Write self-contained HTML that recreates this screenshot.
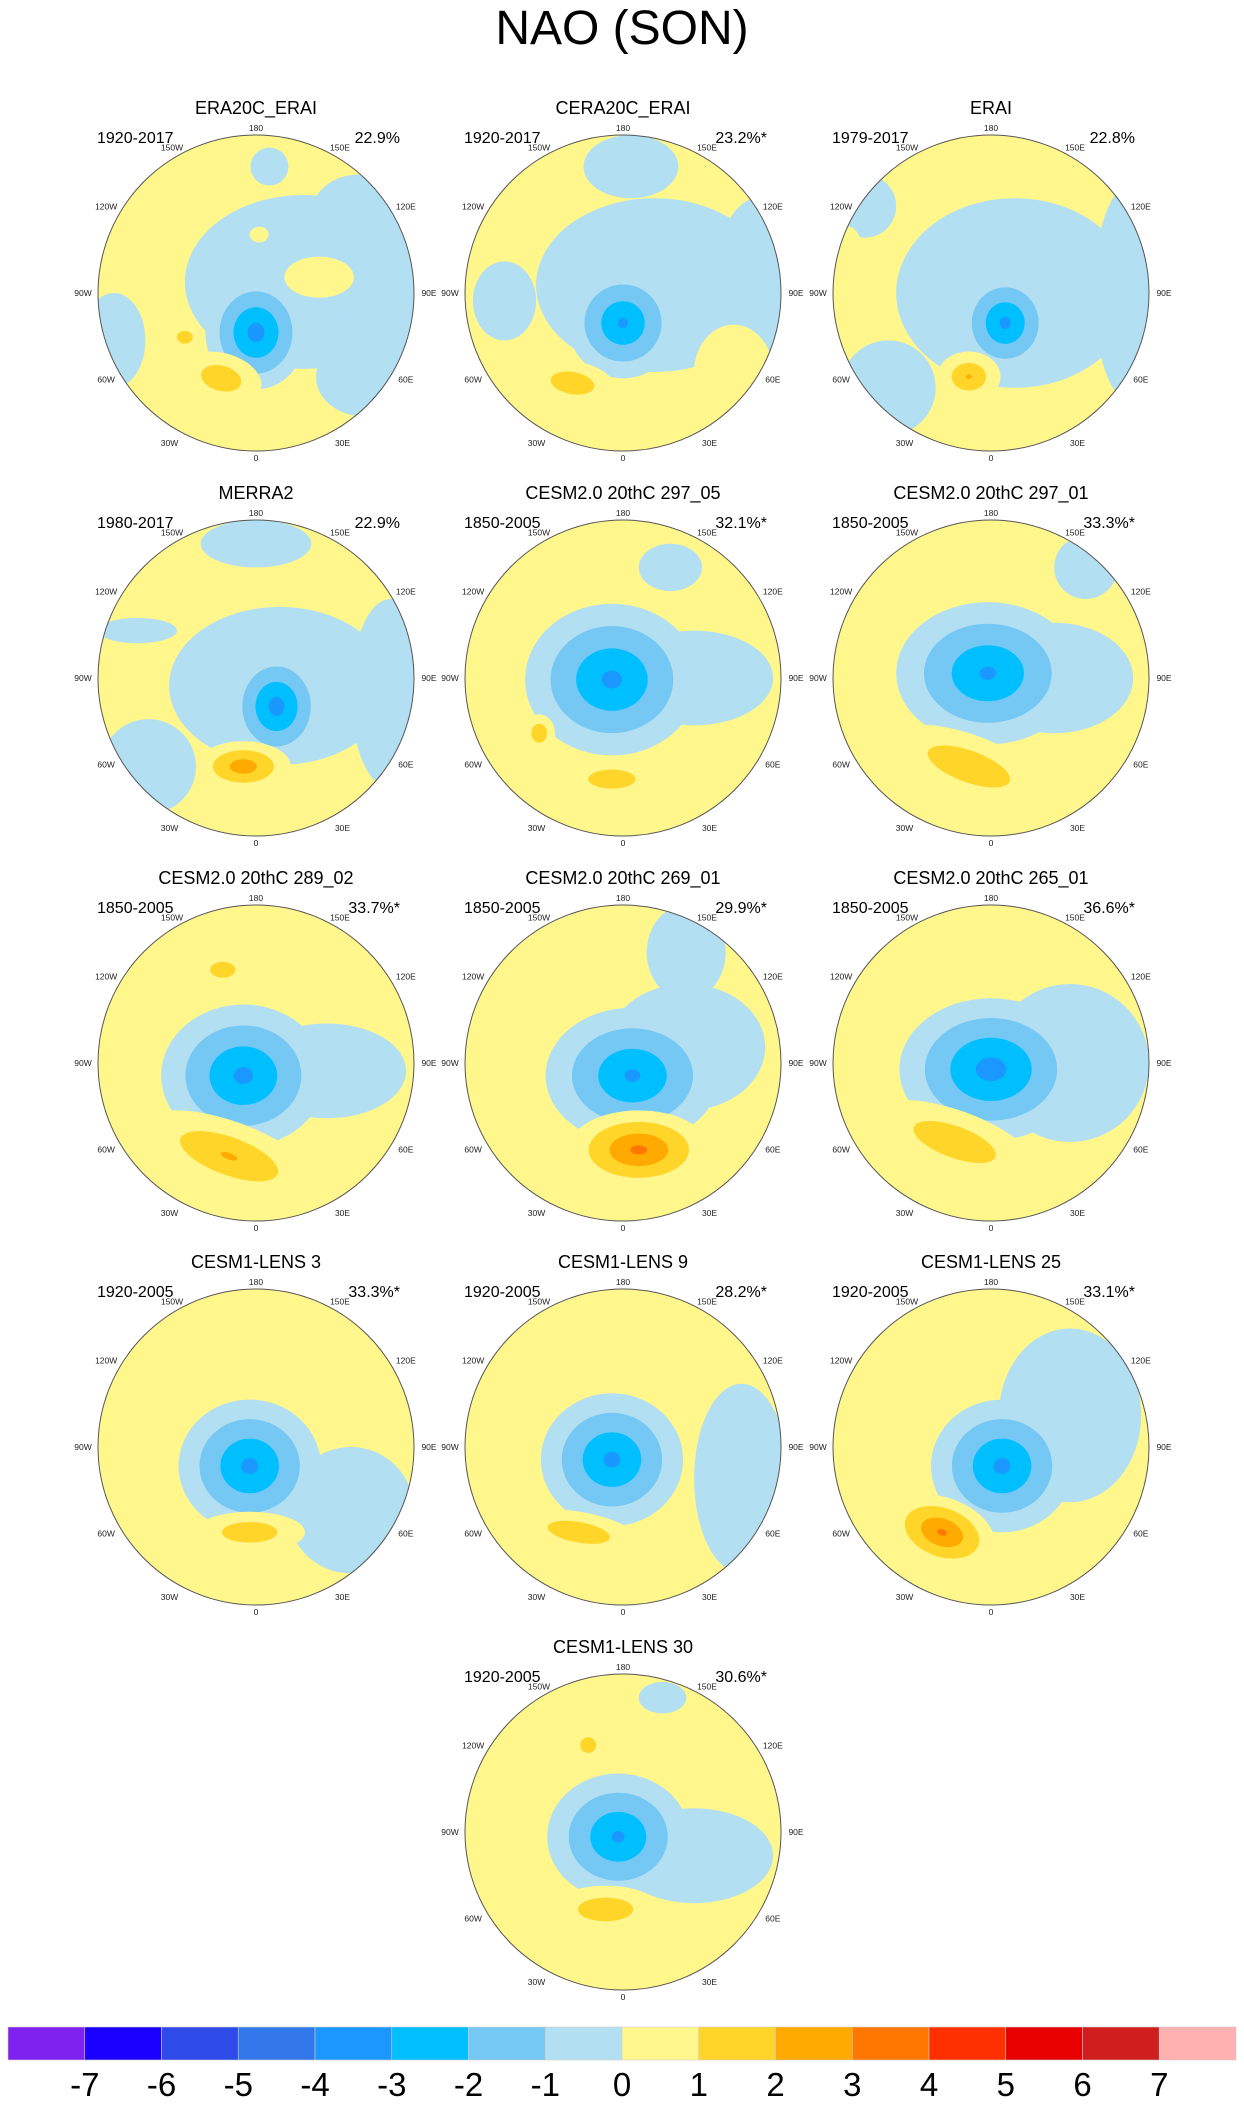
<!DOCTYPE html>
<html><head><meta charset="utf-8">
<style>
html,body{margin:0;padding:0;background:#fff;}
body{width:1244px;height:2107px;overflow:hidden;font-family:"Liberation Sans",sans-serif;}
svg text{font-family:"Liberation Sans",sans-serif;}
</style></head>
<body>
<svg id="fig" width="1244" height="2107" viewBox="0 0 1244 2107" xmlns="http://www.w3.org/2000/svg">
<text x="622" y="44" font-size="48" text-anchor="middle">NAO (SON)</text>
<g id="panels"></g>
<g id="cbar"></g>
</svg>
<script>
// ---- panel metadata ----
const titles = ["ERA20C_ERAI","CERA20C_ERAI","ERAI","MERRA2","CESM2.0 20thC 297_05","CESM2.0 20thC 297_01","CESM2.0 20thC 289_02","CESM2.0 20thC 269_01","CESM2.0 20thC 265_01","CESM1-LENS 3","CESM1-LENS 9","CESM1-LENS 25","CESM1-LENS 30"];
const periods = ["1920-2017","1920-2017","1979-2017","1980-2017","1850-2005","1850-2005","1850-2005","1850-2005","1850-2005","1920-2005","1920-2005","1920-2005","1920-2005"];
const variance = ["22.9%","23.2%*","22.8%","22.9%","32.1%*","33.3%*","33.7%*","29.9%*","36.6%*","33.3%*","28.2%*","33.1%*","30.6%*"];
// ---- anomaly features per panel: [u, v, rx, ry, rot, peak] (u,v in circle-radius units) ----
const fields = [
 [[0.3,-0.07,0.75,0.55,0,-0.9],[0.9,0.2,0.35,0.8,0,-0.9],[0.68,0.53,0.3,0.25,0,-0.9],[0.085,-0.8,0.12,0.12,0,-0.9],[0.65,-0.5,0.3,0.25,0,-0.9],[-0.9,0.3,0.2,0.3,0,-0.9],[0.4,-0.1,0.22,0.13,0,0.5],[0.02,-0.37,0.06,0.05,0,0.5],[0.0,0.25,0.32,0.36,0,-3.6],[-0.22,0.54,0.26,0.16,15,2],[-0.45,0.28,0.1,0.08,0,2]],
 [[0.2,-0.05,0.75,0.55,0,-0.9],[0.85,0.1,0.3,0.7,0,-0.9],[0.05,-0.8,0.3,0.2,0,-0.9],[-0.75,0.05,0.2,0.25,0,-0.9],[0.7,0.5,0.25,0.3,0,0.5],[0.0,0.19,0.35,0.35,0,-3.3],[-0.32,0.57,0.28,0.14,10,2]],
 [[0.15,0,0.75,0.6,0,-0.9],[-0.65,0.6,0.3,0.3,0,-0.9],[-0.8,-0.55,0.2,0.2,0,-0.9],[0.9,0,0.25,0.7,0,-0.9],[-0.9,-0.07,0.12,0.35,0,0.5],[0.09,0.19,0.3,0.32,0,-3.4],[-0.14,0.53,0.2,0.16,0,2.2]],
 [[0.15,0.05,0.7,0.5,0,-0.9],[-0.68,0.56,0.3,0.3,0,-0.9],[0,-0.85,0.35,0.15,0,-0.9],[-0.75,-0.3,0.25,0.08,0,-0.9],[0.85,0.1,0.25,0.6,0,-0.9],[0.13,0.18,0.3,0.35,0,-3.6],[-0.08,0.56,0.3,0.16,0,2.8]],
 [[0.45,0,0.5,0.3,0,-0.9],[0.3,-0.7,0.2,0.15,0,-0.9],[-0.07,0.01,0.55,0.48,0,-3.4],[-0.07,0.64,0.3,0.12,0,2],[-0.53,0.35,0.1,0.12,0,2]],
 [[0.4,0,0.5,0.35,0,-0.9],[0.6,-0.7,0.2,0.2,0,-0.9],[-0.02,-0.03,0.58,0.45,0,-3.3],[-0.14,0.56,0.55,0.2,20,2]],
 [[0.45,0.05,0.5,0.3,0,-0.9],[-0.08,0.08,0.52,0.45,0,-3.4],[-0.17,0.59,0.6,0.22,20,2.2],[-0.21,-0.59,0.16,0.1,0,2]],
 [[0.4,-0.1,0.5,0.4,0,-0.9],[0.4,-0.7,0.25,0.3,0,-0.9],[0.06,0.08,0.55,0.43,0,-3.3],[0.1,0.55,0.45,0.25,0,3.4]],
 [[0.5,0,0.5,0.5,0,-0.9],[0,0.04,0.58,0.45,0,-3.6],[-0.23,0.5,0.55,0.2,20,2]],
 [[0.6,0.4,0.4,0.4,0,-0.9],[-0.04,0.12,0.45,0.42,0,-3.4],[-0.04,0.54,0.35,0.13,0,2]],
 [[0.75,0.2,0.3,0.6,0,-0.9],[-0.07,0.08,0.45,0.42,0,-3.4],[-0.28,0.54,0.4,0.13,10,2]],
 [[0.5,-0.2,0.45,0.55,0,-0.9],[0.07,0.12,0.45,0.42,0,-3.4],[-0.31,0.54,0.35,0.22,20,3.3]],
 [[0.45,0.15,0.5,0.3,0,-0.9],[0.25,-0.85,0.15,0.1,0,-0.9],[-0.03,0.03,0.45,0.4,0,-3.3],[-0.11,0.49,0.35,0.15,0,2],[-0.22,-0.55,0.1,0.1,0,2]]
];
// ---- colour scale ----
const levels = [-7,-6,-5,-4,-3,-2,-1,0,1,2,3,4,5,6,7];
const colors = ["#7f22ef","#1a00ff","#2e4ae8","#3378eb","#1a98ff","#00bfff","#75c8f3","#b3dff3","#fff68c","#ffd52a","#ffaa00","#ff7700","#ff3000","#e80000","#d01e1e","#ffb0b0"];
const lonLabels = ["0","30E","60E","90E","120E","150E","180","150W","120W","90W","60W","30W"];
const lonValues = [0,30,60,90,120,150,180,-150,-120,-90,-60,-30];

const NS="http://www.w3.org/2000/svg";
function mk(tag,attrs,parent){const e=document.createElementNS(NS,tag);for(const k in attrs)e.setAttribute(k,attrs[k]);if(parent)parent.appendChild(e);return e;}
function colorFor(lo){ const i=lo+8; return colors[Math.max(0,Math.min(15,i))]; }
const R=158;
const colX=[256,623,991], rowY=[293,678,1063,1447,1832];
const panelsG=document.getElementById('panels');
titles.forEach((t,p)=>{
  const cx = p<12 ? colX[p%3] : colX[1];
  const cy = rowY[Math.floor(p/3)];
  const g=mk('g',{},panelsG);
  
  
  const tt=mk('text',{x:cx,y:cy-179,'font-size':18,'text-anchor':'middle'},g);tt.textContent=t;
  
  
  const yr=mk('text',{x:cx-159,y:cy-150,'font-size':16},g);yr.textContent=periods[p];
  
  
  const pc=mk('text',{x:cx+144,y:cy-150,'font-size':16,'text-anchor':'end'},g);pc.textContent=variance[p];
  
  
  const cid='clip'+p;
  const cp=mk('clipPath',{id:cid},g);mk('circle',{cx:cx,cy:cy,r:R},cp);
  const bg=mk('circle',{cx:cx,cy:cy,r:R,fill:colors[8]},g);
  
  
  const fg=mk('g',{'clip-path':'url(#'+cid+')'},g);
  fields[p].forEach(f=>{
    const [u,v,rx,ry,rot,peak]=f;
    const ax=Math.abs(peak);
    const sgn=peak<0?-1:1;
    for(let t=0;t<ax;t++){
      const s=1-t/ax;
      const lo = sgn<0 ? -(t+1) : t;
      const e=mk('ellipse',{cx:cx+u*R,cy:cy+v*R,rx:rx*R*s,ry:ry*R*s,fill:colorFor(lo),transform:`rotate(${rot} ${cx+u*R} ${cy+v*R})`},fg);
      
      
    }
  });
  const ring=mk('circle',{cx:cx,cy:cy,r:R,fill:'none',stroke:'#555','stroke-width':1},g);
  
  
  lonValues.forEach((L,i)=>{
    const a=L*Math.PI/180, rr=(L===0||L===180)?165:(Math.abs(L)===150?168:173);
    const lt=mk('text',{x:cx+Math.sin(a)*rr,y:cy+Math.cos(a)*rr+3,'font-size':8.5,'text-anchor':'middle',fill:'#222'},g);
    lt.textContent=lonLabels[i];
    
    
  });
});
// ---- colorbar ----
const cb=document.getElementById('cbar');
const x0=8,x1=1236,bw=(x1-x0)/colors.length;
colors.forEach((c,i)=>{
  const r=mk('rect',{x:x0+i*bw,y:2027,width:bw,height:33,fill:c,stroke:'#ccc','stroke-width':0.6},cb);
  
  
});
levels.forEach((l,i)=>{
  const t=mk('text',{x:x0+(i+1)*bw,y:2096,'font-size':33,'text-anchor':'middle'},cb);
  t.textContent=l;
  
  
});
</script>
</body></html>
